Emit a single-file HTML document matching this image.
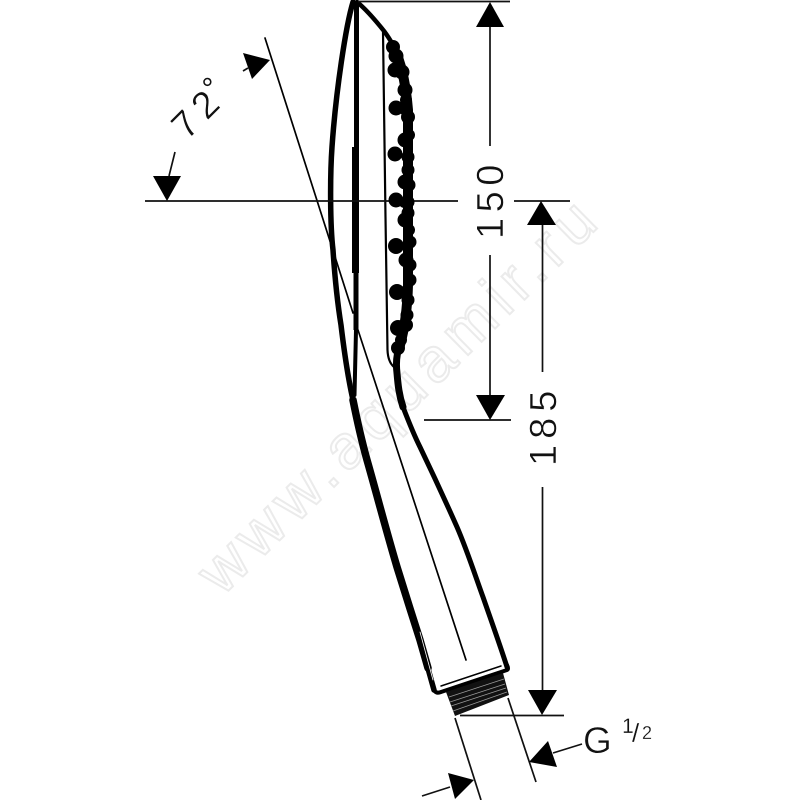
<!DOCTYPE html>
<html><head><meta charset="utf-8"><style>
html,body{margin:0;padding:0;background:#fff}
svg{display:block}
.d{font-family:"Liberation Sans",sans-serif;fill:#111;stroke:#fff;stroke-width:.5}
</style></head><body>
<svg width="800" height="800" viewBox="0 0 800 800" xmlns="http://www.w3.org/2000/svg">
<text x="222" y="597" transform="rotate(-44.5 222 597)" font-family="Liberation Sans,sans-serif" font-size="62" textLength="530" fill="#fff" stroke="#ebebeb" stroke-width="2">www.aquamir.ru</text>

<g fill="none" stroke="#000" stroke-linejoin="round" stroke-linecap="round">
<!-- body outline: left side -->
<path d="M353 2C346 25 336 90 332 147C330 175 330 225 333 250C335 280 337 300 341 325C344 350 348 378 353 400C357 420 362 442 367 460C377 495 386 530 397 567C405 593 412 615 420 640L434 690" stroke-width="5.500"/>
<path d="M353 400C357 420 362 442 367 460C377 495 386 530 397 567C405 593 412 615 420 640L428 668" stroke-width="7.500"/>
<!-- right side -->
<path d="M357 2C367 10 376 21 384 31C390 39 393 45 396 50" stroke-width="4.500"/>
<path d="M397 55Q405 75 408 110V285Q407 320 400 345" stroke-width="10"/>
<path d="M400 345C396 355 396 365 397 373C398 385 399 395 403 407" stroke-width="7"/>
<path d="M403 407C408 420 414 435 420 447C432 472 445 500 457 527C467 550 475 575 483 597C491 620 500 645 507 667" stroke-width="5"/>
<!-- inner thick line -->
<path d="M356.500 3V147" stroke-width="5"/>
<path d="M355.500 147V273" stroke-width="7" stroke-linecap="butt"/>
<path d="M356 273V330" stroke-width="5" stroke-linecap="butt"/>
<path d="M356 330L354.500 395" stroke-width="4"/>
<!-- face line -->
<path d="M383 32L385.500 217L387.500 350Q388 362 394 367" stroke-width="2.200"/>
<!-- axis -->
<path d="M265 38L353 313" stroke-width="1.700"/>
<path d="M358 330L466 660" stroke-width="1.700"/>
<!-- bottom of body -->
<path d="M434 690Q436 694 441 692L507 670Q509 669 507 665" stroke-width="4"/>
<path d="M441 686L501 666" stroke-width="1.500"/>
<path d="M420 632L433 680" stroke-width="0.800" stroke="#fff"/>
<!-- dimension lines -->
<g stroke-width="1.700" stroke-linecap="butt" stroke="#111">
<path d="M358 1.500H510"/>
<path d="M490 26V146M490 255V396"/>
<path d="M424 420H511"/>
<path d="M145 201H458M514 201H570"/>
<path d="M542.500 225V372M542.500 487V692"/>
<path d="M460 715.500H564"/>
<path d="M169 176L175 152"/>
<path d="M243 71L248 68"/>
<path d="M508 698L536 782"/>
<path d="M455 718L481 800"/>
<path d="M553 753L582 744"/>
<path d="M422 796L450 787"/>
</g>
</g>

<!-- spray nozzles -->
<g fill="#000">
<circle cx="393" cy="47" r="7"/><circle cx="396" cy="56" r="7.500"/><circle cx="395" cy="70" r="7.500"/><circle cx="402" cy="72" r="7.500"/><circle cx="405" cy="90" r="7.500"/><circle cx="406" cy="100" r="6"/><circle cx="396" cy="108" r="7.500"/><circle cx="404" cy="110" r="5"/><circle cx="408" cy="117" r="7"/><circle cx="409" cy="135" r="6"/><circle cx="405" cy="140" r="7.500"/><circle cx="395" cy="154" r="7.500"/><circle cx="408" cy="157" r="6.500"/><circle cx="408" cy="170" r="6.500"/><circle cx="405" cy="182" r="7.500"/><circle cx="409" cy="185" r="6.500"/><circle cx="396" cy="200" r="7.500"/><circle cx="404" cy="203" r="5"/><circle cx="408" cy="202" r="6.500"/><circle cx="408" cy="213" r="6.500"/><circle cx="405" cy="220" r="7.500"/><circle cx="409" cy="230" r="6"/><circle cx="396" cy="246" r="8"/><circle cx="410" cy="242" r="6.500"/><circle cx="406" cy="260" r="7.500"/><circle cx="410" cy="265" r="6.500"/><circle cx="410" cy="280" r="6.500"/><circle cx="397" cy="292" r="8"/><circle cx="405" cy="292" r="6"/><circle cx="408" cy="300" r="6.500"/><circle cx="407" cy="315" r="6.500"/><circle cx="398" cy="328" r="8"/><circle cx="406" cy="325" r="7"/><circle cx="398" cy="348" r="7"/><circle cx="401" cy="340" r="6"/>
</g>

<!-- thread -->
<polygon points="446,692 503,673 509,695 455,716" fill="#111"/>
<g stroke="#999" stroke-width="0.7">
<path d="M449 697L504 679M450 702L505 684M451 706L506 688M453 711L507 692"/>
</g>

<!-- arrowheads -->
<g fill="#000">
<polygon points="490,2 476,27 504,27"/>
<polygon points="490,420 476,395 505,395"/>
<polygon points="541,201 527,225 556,225"/>
<polygon points="542,715 528,690 557,690"/>
<polygon points="167,201 153,176 181,176"/>
<polygon points="270,60 243,53 252,79"/>
<polygon points="529,762 548,741 557,767"/>
<polygon points="474,780 448,773 455,799"/>
</g>

<!-- labels -->
<text class="d" x="503" y="239" transform="rotate(-90 503 239)" font-size="38" letter-spacing="5.500">150</text>
<text class="d" x="556" y="466" transform="rotate(-90 556 466)" font-size="38" letter-spacing="6">185</text>
<text class="d" x="187" y="141" transform="rotate(-45 187 141)" font-size="38" letter-spacing="7">72</text>
<text x="215" y="98" transform="rotate(-45 215 98)" font-size="30" font-family="Liberation Sans,sans-serif" fill="#111">°</text>
<text class="d" x="583" y="753" font-size="37">G</text>
<text class="d" x="622" y="733" font-size="21" style="stroke-width:.2">1</text>
<text class="d" x="632" y="742" font-size="26" style="stroke-width:.2">/</text>
<text class="d" x="642" y="739" font-size="18" style="stroke-width:.2">2</text>
</svg>
</body></html>
